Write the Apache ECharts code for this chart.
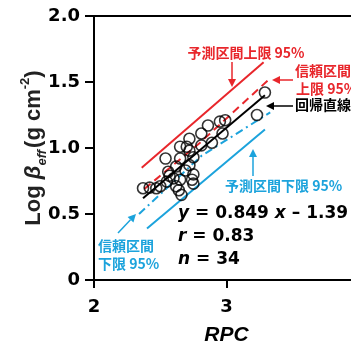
<!DOCTYPE html>
<html><head><meta charset="utf-8">
<script src="https://cdn.jsdelivr.net/npm/echarts@6/dist/echarts.min.js"></script>
<style>html,body{margin:0;padding:0;background:#fff}#c{width:351px;height:344px}</style>
</head><body><div id="c"></div>
<script>
// ---- data ----
const points = [
  [3.29,1.42],[3.23,1.25],[2.99,1.21],[2.95,1.20],[2.86,1.17],[2.97,1.11],[2.81,1.11],
  [2.72,1.07],[2.89,1.04],[2.81,1.02],[2.65,1.01],[2.70,1.01],[2.72,0.98],[2.75,0.93],
  [2.54,0.92],[2.65,0.92],[2.72,0.87],[2.62,0.86],[2.56,0.82],[2.75,0.80],[2.57,0.79],
  [2.60,0.77],[2.74,0.76],[2.65,0.76],[2.55,0.745],[2.75,0.73],[2.50,0.71],[2.62,0.71],
  [2.37,0.695],[2.47,0.695],[2.64,0.68],[2.66,0.645],[2.69,0.83],[2.42,0.70]
];
const regressionLine = [[2.37,0.62],[3.29,1.40]];
const predUpper = [[2.36,0.85],[3.28,1.65]];
const confUpper = [[2.38,0.69],[2.80,1.04],[3.31,1.51]];
const confLower = [[2.34,0.50],[2.81,0.94],[3.33,1.27]];
const predLower = [[2.40,0.39],[3.29,1.14]];
const xTicks = [2,3,4];
const yTickLabels = ['0','0.5','1.0','1.5','2.0'];

const RED = '#e8262b', BLUE = '#1ca3dc';
const FONT = 'Liberation Sans, Arial, sans-serif';
const NFONT = '"DejaVu Sans", sans-serif';
const JFONT = '"Noto Sans CJK JP", sans-serif';

function arrow(x1,y1,x2,y2,color){
  const dx=x2-x1, dy=y2-y1, L=Math.sqrt(dx*dx+dy*dy), ux=dx/L, uy=dy/L;
  const h=8, w=4;
  const bx=x2-ux*h, by=y2-uy*h;
  return [
    {type:'line', shape:{x1:x1,y1:y1,x2:bx,y2:by}, style:{stroke:color,lineWidth:1.5}},
    {type:'polygon', shape:{points:[[x2,y2],[bx-uy*w,by+ux*w],[bx+uy*w,by-ux*w]]}, style:{fill:color}}
  ];
}
function txt(x,y,text,color,size,align,rich){
  return {type:'text', x:x, y:y, style:{text:text, fill:color, font:'bold '+size+'px '+JFONT,
    textAlign:align||'left', textVerticalAlign:'middle', rich:rich}};
}

const chart = echarts.init(document.getElementById('c'));
const lineS = (data,color,type,w)=>({type:'line',data:data,symbol:'none',silent:true,
  lineStyle:{color:color,width:w||2,type:type||'solid'},z:2});

const eqRich = {i:{fontStyle:'italic',fontWeight:'bold',fontSize:17,fontFamily:NFONT,fill:'#000'},
                n:{fontWeight:'bold',fontSize:17,fontFamily:NFONT,fill:'#000'}};

chart.setOption({
  animation:false,
  grid:{left:94, top:16, width:265, height:264, outerBoundsMode:'none', containLabel:false,
    show:true, borderColor:'#000', borderWidth:2, backgroundColor:'transparent'},
  xAxis:{type:'value', min:xTicks[0], max:xTicks[xTicks.length-1], interval:1,
    name:'RPC', nameLocation:'middle', nameGap:45,
    nameTextStyle:{fontFamily:FONT, fontWeight:'bold', fontStyle:'italic', fontSize:21, color:'#000'},
    axisLine:{lineStyle:{color:'#000',width:2}}, axisTick:{length:8,lineStyle:{width:2,color:'#000'}},
    axisLabel:{fontFamily:NFONT, fontWeight:'bold', fontSize:18, color:'#000', margin:18},
    splitLine:{show:false}},
  yAxis:{type:'value', min:0, max:2, interval:0.5,
    name:'{n|Log }{b|β}{s|eff}{n|(g cm}{p|-2}{n|)}', nameLocation:'middle', nameGap:45, nameRotate:90,
    nameMoveOverlap:false,
    nameTextStyle:{color:'#222', rich:{
      n:{fontFamily:FONT,fontSize:22,fontWeight:'bold',color:'#222',lineHeight:30},
      b:{fontFamily:FONT,fontSize:22,fontWeight:'bold',fontStyle:'italic',color:'#222',lineHeight:30},
      s:{fontFamily:FONT,fontSize:13,fontWeight:'bold',fontStyle:'italic',color:'#222',verticalAlign:'bottom',lineHeight:30,padding:[0,2,0,0]},
      p:{fontFamily:FONT,fontSize:13,fontWeight:'bold',color:'#222',verticalAlign:'top',lineHeight:30}}},
    axisLine:{lineStyle:{color:'#000',width:2}}, axisTick:{length:9,lineStyle:{width:2,color:'#000'}},
    axisLabel:{fontFamily:NFONT, fontWeight:'bold', fontSize:18, color:'#000', margin:14,
      formatter:(v)=>yTickLabels[Math.round(v/0.5)]},
    splitLine:{show:false}},
  series:[
    lineS(predUpper,RED,'solid'),
    lineS(confUpper,RED,[8,5]),
    lineS(confLower,BLUE,[8,4,2,4]),
    lineS(predLower,BLUE,'solid'),
    lineS(regressionLine,'#000','solid'),
    {type:'scatter', data:points, symbol:'circle', symbolSize:11, silent:true, z:3,
      itemStyle:{color:'rgba(0,0,0,0)', borderColor:'#000', borderWidth:1.6}}
  ],
  graphic:[].concat(
    arrow(232,62,232,87,RED),
    arrow(293,80,272,80,RED),
    arrow(293,106,266,106,'#000'),
    arrow(253,176,253,149,BLUE),
    arrow(118,233,136,214,BLUE),
    [
      txt(246,53,'予測区間上限 95%',RED,14,'center'),
      txt(295,71,'信頼区間',RED,14),
      txt(296,89,'上限 95%',RED,14),
      txt(295,105,'回帰直線','#000',14),
      txt(225,186,'予測区間下限 95%',BLUE,14),
      txt(98,246,'信頼区間',BLUE,14),
      txt(98,264,'下限 95%',BLUE,14),
      {type:'text', x:178, y:214, style:{text:'{i|y}{n| = 0.849 }{i|x}{n| – 1.39}', rich:eqRich, textVerticalAlign:'middle'}},
      {type:'text', x:178, y:237, style:{text:'{i|r}{n| = 0.83}', rich:eqRich, textVerticalAlign:'middle'}},
      {type:'text', x:178, y:260, style:{text:'{i|n}{n| = 34}', rich:eqRich, textVerticalAlign:'middle'}}
    ])
});
</script></body></html>
